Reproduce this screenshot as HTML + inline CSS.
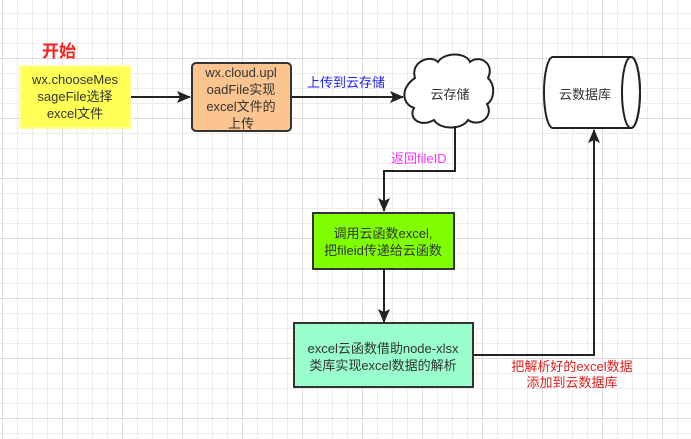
<!DOCTYPE html>
<html><head><meta charset="utf-8"><style>
html,body{margin:0;padding:0;}
body{width:691px;height:439px;overflow:hidden;background-color:#fff;
background-image:
linear-gradient(to right,#dcdcdc 1px,transparent 1px),
linear-gradient(to bottom,#dcdcdc 1px,transparent 1px),
linear-gradient(to right,#ececec 1px,transparent 1px),
linear-gradient(to bottom,#ececec 1px,transparent 1px);
background-size:60px 60px,60px 60px,15px 15px,15px 15px;
background-position:2px -2px,2px -2px,2px 13px,2px 13px;
font-family:"Liberation Sans","Noto Sans CJK SC",sans-serif;}
svg{position:absolute;left:0;top:0;}
text{font-family:"Liberation Sans","Noto Sans CJK SC",sans-serif;}
</style></head><body>
<svg width="691" height="439" viewBox="0 0 691 439">
<defs><marker id="a" markerWidth="14" markerHeight="12" refX="13" refY="6" orient="auto" markerUnits="userSpaceOnUse"><path d="M0,0 L14,6 L0,12 L3,6 Z" fill="#222"/></marker></defs>
<text x="42" y="57" fill="#ff2020" font-size="17" font-weight="bold">开始</text>
<rect x="20" y="66" width="110" height="62" fill="#ffff55" stroke="#ffff99" stroke-width="2"/>
<g font-size="13" fill="#333" text-anchor="middle">
<text x="75" y="84">wx.chooseMes</text><text x="75" y="101">sageFile选择</text><text x="75" y="118">excel文件</text>
</g>
<line x1="131" y1="97" x2="190" y2="97" stroke="#222" stroke-width="2" marker-end="url(#a)"/>
<rect x="192" y="63" width="99" height="68" rx="4" fill="#fcc58f" stroke="#333" stroke-width="2"/>
<g font-size="13" fill="#333" text-anchor="middle">
<text x="241" y="77">wx.cloud.upl</text><text x="241" y="94">oadFile实现</text><text x="241" y="111">excel文件的</text><text x="241" y="128">上传</text>
</g>
<line x1="291" y1="97" x2="403" y2="97" stroke="#222" stroke-width="2" marker-end="url(#a)"/>
<text x="307" y="87" fill="#2020ff" font-size="13">上传到云存储</text>
<path d="M415,78 C410,62 430,54 438,62 C444,52 466,52 470,62 C480,54 495,64 488,78 C496,86 494,100 487,104 C494,116 480,128 468,120 C462,130 440,130 434,120 C420,128 408,118 414,108 C402,104 400,88 415,78 Z" fill="#fff" stroke="#222" stroke-width="2"/>
<text x="450" y="99" font-size="13" fill="#333" text-anchor="middle">云存储</text>
<polyline points="455,126 455,171 384,171 384,211" fill="none" stroke="#222" stroke-width="2" marker-end="url(#a)"/>
<text x="391" y="163" fill="#ff33ff" font-size="13">返回fileID</text>
<rect x="313" y="213" width="141" height="56" fill="#80ff00" stroke="#333" stroke-width="2"/>
<g font-size="13" fill="#333" text-anchor="middle">
<text x="383" y="238">调用云函数excel,</text><text x="383" y="255">把fileid传递给云函数</text>
</g>
<line x1="384" y1="269" x2="384" y2="322" stroke="#222" stroke-width="2" marker-end="url(#a)"/>
<rect x="294" y="323" width="179" height="64" fill="#99ffcc" stroke="#333" stroke-width="2"/>
<g font-size="13" fill="#333" text-anchor="middle">
<text x="383" y="353">excel云函数借助node-xlsx</text><text x="383" y="370">类库实现excel数据的解析</text>
</g>
<polyline points="473,355 594,355 594,130" fill="none" stroke="#222" stroke-width="2" marker-end="url(#a)"/>
<g font-size="13" fill="#e02020" text-anchor="middle">
<text x="572" y="371">把解析好的excel数据</text><text x="572" y="387">添加到云数据库</text>
</g>
<path d="M553,57 L631,57 A9,35.5 0 0 1 631,128 L553,128 A9,35.5 0 0 1 553,57 Z" fill="#fff" stroke="#222" stroke-width="2"/>
<ellipse cx="631" cy="92.5" rx="9" ry="35.5" fill="none" stroke="#222" stroke-width="2"/>
<text x="585" y="99" font-size="13" fill="#333" text-anchor="middle">云数据库</text>
</svg>
</body></html>
